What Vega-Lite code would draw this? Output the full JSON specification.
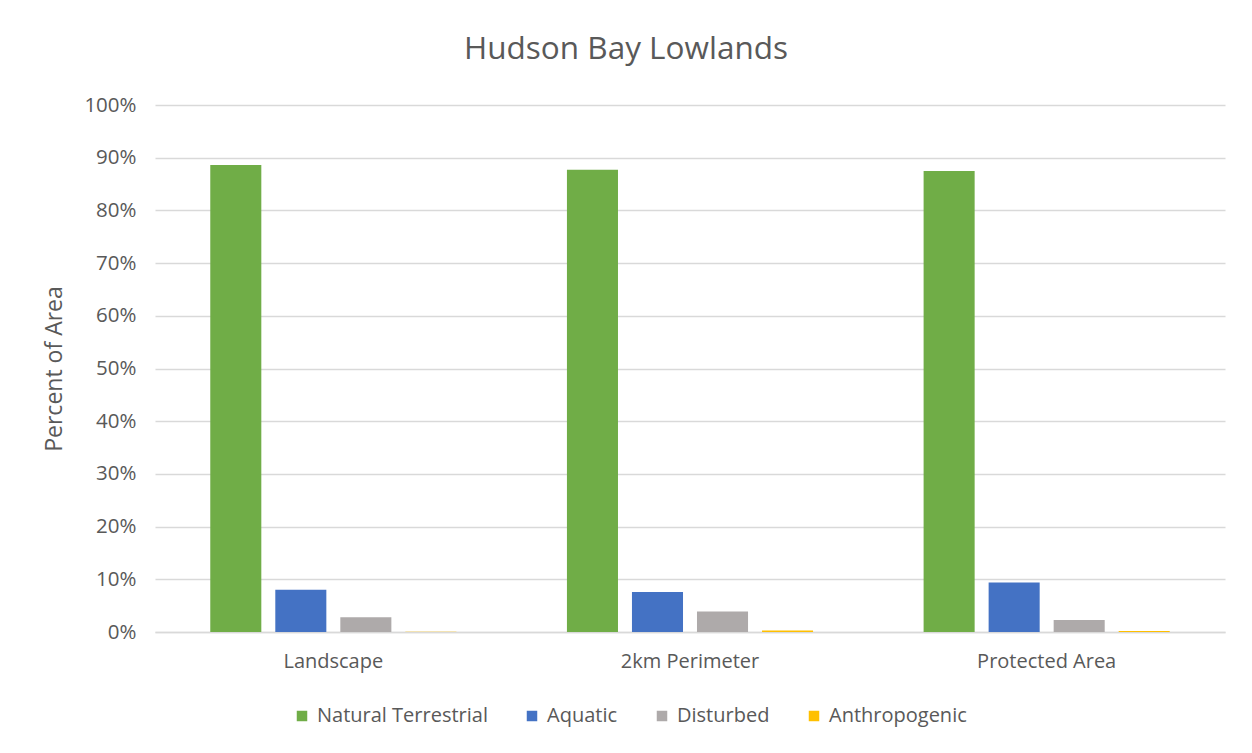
{
  "$schema": "https://vega.github.io/schema/vega-lite/v6.json",
  "autosize": {"type": "none"},
  "width": 1070,
  "height": 527,
  "padding": {"left": 155, "top": 105, "right": 27, "bottom": 121},
  "background": "white",
  "config": {
    "font": "Open Sans",
    "view": {"stroke": null},
    "axis": {"labelColor": "#595959", "titleColor": "#595959", "labelFont": "Open Sans", "titleFont": "Open Sans"},
    "legend": {"labelColor": "#595959", "labelFont": "Open Sans"}
  },
  "title": {
    "text": "Hudson Bay Lowlands",
    "fontSize": 31.5,
    "font": "Open Sans",
    "fontWeight": "normal",
    "color": "#595959",
    "anchor": "middle",
    "dx": -64,
    "offset": 30
  },
  "data": {
    "values": [
      {"Category": "Landscape", "Series": "Natural Terrestrial", "Value": 0.886},
      {"Category": "Landscape", "Series": "Aquatic", "Value": 0.080},
      {"Category": "Landscape", "Series": "Disturbed", "Value": 0.028},
      {"Category": "Landscape", "Series": "Anthropogenic", "Value": 0.0005},
      {"Category": "2km Perimeter", "Series": "Natural Terrestrial", "Value": 0.877},
      {"Category": "2km Perimeter", "Series": "Aquatic", "Value": 0.076},
      {"Category": "2km Perimeter", "Series": "Disturbed", "Value": 0.039},
      {"Category": "2km Perimeter", "Series": "Anthropogenic", "Value": 0.003},
      {"Category": "Protected Area", "Series": "Natural Terrestrial", "Value": 0.875},
      {"Category": "Protected Area", "Series": "Aquatic", "Value": 0.094},
      {"Category": "Protected Area", "Series": "Disturbed", "Value": 0.023},
      {"Category": "Protected Area", "Series": "Anthropogenic", "Value": 0.002}
    ]
  },
  "mark": {"type": "bar"},
  "encoding": {
    "x": {
      "field": "Category",
      "type": "nominal",
      "sort": ["Landscape", "2km Perimeter", "Protected Area"],
      "scale": {"paddingInner": 0, "paddingOuter": 0},
      "axis": {
        "title": null,
        "labelAngle": 0,
        "labelFontSize": 20,
        "labelPadding": 19,
        "ticks": false,
        "domain": true,
        "domainColor": "#d9d9d9",
        "domainWidth": 1.3
      }
    },
    "xOffset": {
      "field": "Series",
      "type": "nominal",
      "sort": ["Natural Terrestrial", "Aquatic", "Disturbed", "Anthropogenic"],
      "scale": {"paddingInner": 0.215, "paddingOuter": 0.85}
    },
    "y": {
      "field": "Value",
      "type": "quantitative",
      "scale": {"domain": [0, 1]},
      "axis": {
        "title": "Percent of Area",
        "titleFontSize": 23,
        "titleFontWeight": "normal",
        "titlePadding": 17,
        "format": ".0%",
        "values": [0, 0.1, 0.2, 0.3, 0.4, 0.5, 0.6, 0.7, 0.8, 0.9, 1.0],
        "labelFontSize": 20.5,
        "labelPadding": 19,
        "ticks": false,
        "domain": false,
        "grid": true,
        "gridColor": "#d9d9d9",
        "gridWidth": 1.3
      }
    },
    "color": {
      "field": "Series",
      "type": "nominal",
      "sort": ["Natural Terrestrial", "Aquatic", "Disturbed", "Anthropogenic"],
      "scale": {
        "domain": ["Natural Terrestrial", "Aquatic", "Disturbed", "Anthropogenic"],
        "range": ["#70ad47", "#4472c4", "#aeaaaa", "#ffc000"]
      },
      "legend": {
        "title": null,
        "orient": "none",
        "legendX": 137,
        "legendY": 601,
        "direction": "horizontal",
        "columns": 4,
        "symbolType": "square",
        "symbolSize": 110,
        "symbolStrokeWidth": 0,
        "labelFontSize": 20,
        "labelLimit": 400,
        "labelOffset": 5,
        "columnPadding": 34
      }
    }
  }
}
